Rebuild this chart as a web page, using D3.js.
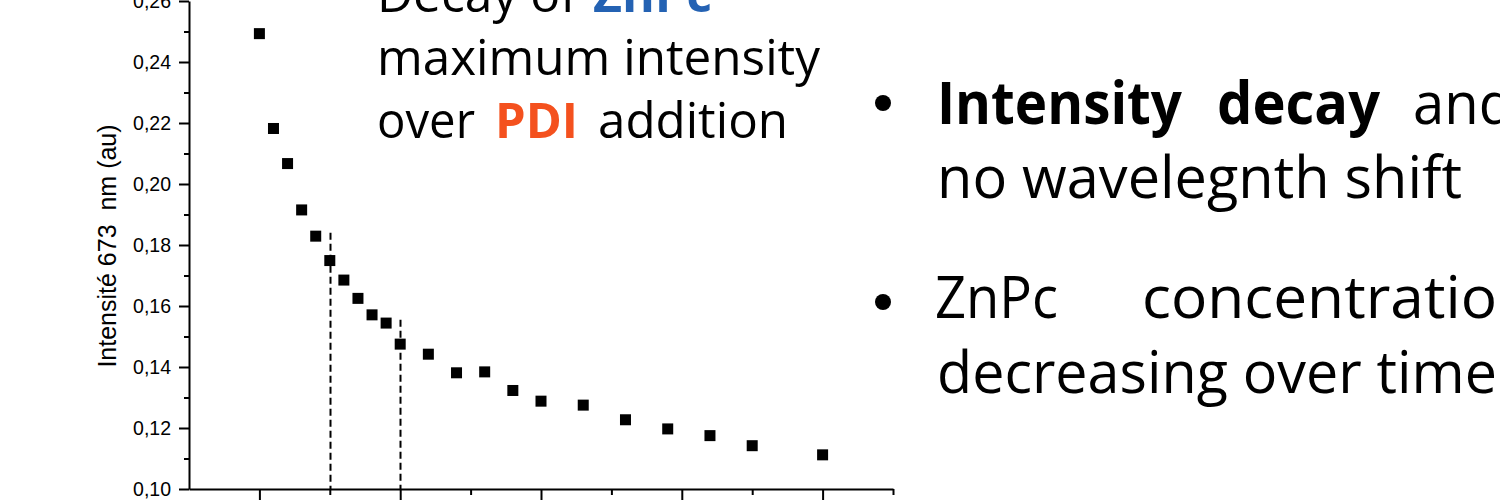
<!DOCTYPE html>
<html>
<head>
<meta charset="utf-8">
<script src="https://cdn.jsdelivr.net/npm/d3@7"></script>
<style>
	body { margin: 0; background: #fff; overflow: hidden; }
</style>
</head>
<body>
<div id="chart"></div>
<script>

//PDI additions (x) and max intensity at 673 nm (y)
var additions = [0, 1, 2, 3, 4, 5, 6, 7, 8, 9, 10, 12, 14, 16, 18, 20, 23, 26, 29, 32, 35, 40];
var intensity = [0.2493, 0.2182, 0.2067, 0.1915, 0.1829, 0.1749, 0.1685, 0.1625, 0.1571, 0.1544, 0.1475,
	0.1442, 0.1381, 0.1384, 0.1323, 0.1288, 0.1275, 0.1227, 0.1197, 0.1175, 0.1142, 0.1112];

var yMajorTicks = [0.10, 0.12, 0.14, 0.16, 0.18, 0.20, 0.22, 0.24, 0.26];
var yMinorTicks = [0.11, 0.13, 0.15, 0.17, 0.19, 0.21, 0.23, 0.25];
var xMajorTicks = [0, 10, 20, 30, 40];
var xMinorTicks = [5, 15, 25, 35, 45];

//dashed guides: x position and value where the dash starts
var guideX = [5, 10];
var guideTop = [0.184, 0.1555];

var width = 1500,
	height = 503;

var svg = d3.select("#chart")
	.append("svg")
	.attr("width", width)
	.attr("height", height);

var x = d3.scaleLinear().domain([-5, 45]).range([189, 893]);
var y = d3.scaleLinear().domain([0.10, 0.26]).range([489, 1]);

var fr = d3.formatLocale({decimal: ",", thousands: ".", grouping: [3], currency: ["", "€"]});
var fmt = fr.format(".2f");

///////////////////////////////////////////////////////////////////////////
//////////////////////////////// Axes /////////////////////////////////////
///////////////////////////////////////////////////////////////////////////

var axisFont = "'Liberation Sans', Arial, sans-serif";

//minor ticks first, then the major ones with the line
svg.append("g")
	.attr("transform", "translate(" + x.range()[0] + ",0)")
	.call(d3.axisLeft(y).tickValues(yMinorTicks).tickSize(5).tickSizeOuter(0).tickFormat(""))
	.call(function(g){ g.select(".domain").remove(); });

var yAxis = svg.append("g")
	.attr("transform", "translate(" + x.range()[0] + ",0)")
	.call(d3.axisLeft(y).tickValues(yMajorTicks).tickSize(10).tickSizeOuter(0).tickPadding(8).tickFormat(fmt));

yAxis.selectAll("text")
	.style("font-family", axisFont)
	.style("font-size", "19.5px")
	.style("fill", "#000");

svg.append("g")
	.attr("transform", "translate(0," + y.range()[0] + ")")
	.call(d3.axisBottom(x).tickValues(xMinorTicks).tickSize(6).tickSizeOuter(0).tickFormat(""))
	.call(function(g){ g.select(".domain").remove(); });

svg.append("g")
	.attr("transform", "translate(0," + y.range()[0] + ")")
	.call(d3.axisBottom(x).tickValues(xMajorTicks).tickSize(11).tickSizeOuter(0).tickFormat(""));

svg.selectAll(".domain, .tick line")
	.style("stroke", "#000")
	.style("stroke-width", "2px");

//y axis title
svg.append("text")
	.attr("transform", "translate(116," + ((y.range()[0] + y.range()[1]) / 2 + 1) + ") rotate(-90)")
	.attr("text-anchor", "middle")
	.style("font-family", axisFont)
	.style("font-size", "25px")
	.style("white-space", "pre")
	.text("Intensité 673  nm (au)");

///////////////////////////////////////////////////////////////////////////
///////////////////////////// Dashed guides ///////////////////////////////
///////////////////////////////////////////////////////////////////////////

svg.selectAll(".guide")
	.data(guideX)
	.enter().append("line")
	.attr("class", "guide")
	.attr("x1", function(d){ return Math.round(x(d)) + 0.5; })
	.attr("x2", function(d){ return Math.round(x(d)) + 0.5; })
	.attr("y1", function(d, i){ return y(guideTop[i]); })
	.attr("y2", y.range()[0])
	.style("stroke", "#000")
	.style("stroke-width", "2px")
	.style("stroke-dasharray", "7,4");

///////////////////////////////////////////////////////////////////////////
/////////////////////////////// Points ////////////////////////////////////
///////////////////////////////////////////////////////////////////////////

var sq = 11;
svg.selectAll(".pt")
	.data(additions)
	.enter().append("rect")
	.attr("class", "pt")
	.attr("x", function(d){ return x(d) - sq / 2; })
	.attr("y", function(d, i){ return y(intensity[i]) - sq / 2; })
	.attr("width", sq)
	.attr("height", sq)
	.style("fill", "#000");

///////////////////////////////////////////////////////////////////////////
//////////////////////////////// Texts ////////////////////////////////////
///////////////////////////////////////////////////////////////////////////

var textFont = "'Open Sans', 'Noto Sans', sans-serif";

//each piece: text, x, baseline, length, size, bold, colour
var pieces = [
	["Decay of", 377, 12, 200, 49, false, "#000"],
	["ZnPc", 593, 12, 119, 49, true, "#2462B3"],
	["maximum intensity", 377, 75, 443, 49, false, "#000"],
	["over", 377, 138, 98, 49, false, "#000"],
	["PDI", 495, 138, 83, 49, true, "#F4511E"],
	["addition", 598, 138, 190, 49, false, "#000"],
	["Intensity", 937, 124, 245, 59, true, "#000"],
	["decay", 1217, 124, 163, 59, true, "#000"],
	["and", 1413, 124, 100, 59, false, "#000"],
	["no wavelegnth shift", 937, 198, 525, 59, false, "#000"],
	["ZnPc", 935, 318, 123, 59, false, "#000"],
	["concentration", 1142, 318, 392, 59, false, "#000"],
	["decreasing over time", 937, 393, 560, 59, false, "#000"]
];

svg.selectAll(".txt")
	.data(pieces)
	.enter().append("text")
	.attr("class", "txt")
	.attr("x", function(d){ return d[1]; })
	.attr("y", function(d){ return d[2]; })
	.attr("textLength", function(d){ return d[3]; })
	.attr("lengthAdjust", "spacingAndGlyphs")
	.style("font-family", textFont)
	.style("font-size", function(d){ return d[4] + "px"; })
	.style("font-weight", function(d){ return d[5] ? "bold" : "normal"; })
	.style("fill", function(d){ return d[6]; })
	.text(function(d){ return d[0]; });

//bullets
svg.selectAll(".bullet")
	.data([103, 302])
	.enter().append("circle")
	.attr("class", "bullet")
	.attr("cx", 883)
	.attr("cy", function(d){ return d; })
	.attr("r", 8)
	.style("fill", "#000");

</script>
</body>
</html>
